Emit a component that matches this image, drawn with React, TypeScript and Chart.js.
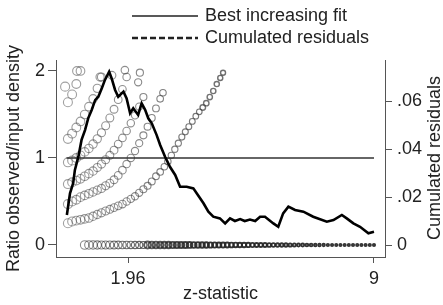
import React, { useEffect, useRef } from "react";
import { Chart, registerables } from "chart.js";
Chart.register(...registerables);

const FONT = "'Liberation Sans', Arial, sans-serif";
const TEXT = "#222";
const AXIS = "#555";

const xTicks = [1.96, 9];
const leftTicks = [0, 1, 2];
const rightTicks = [0, 0.02, 0.04, 0.06];
const legendLabels = ["Best increasing fit", "Cumulated residuals"];
const xTitle = "z-statistic";
const leftTitle = "Ratio observed/input density";
const rightTitle = "Cumulated residuals";

const fitX = [0.2, 9];
const fitY = [1, 1];

const residX = [0.21,0.30,0.39,0.44,0.54,0.63,0.73,0.82,0.92,1.02,1.11,1.21,1.30,1.42,1.49,1.59,1.68,1.83,1.92,2.02,2.11,2.25,2.35,2.45,2.54,2.64,2.78,2.88,3.02,3.16,3.31,3.45,3.64,3.83,3.93,4.12,4.26,4.40,4.59,4.74,4.88,5.02,5.17,5.30,5.45,5.60,5.74,5.88,6.12,6.26,6.40,6.55,6.74,6.98,7.26,7.65,7.84,8.08,8.22,8.41,8.60,8.84,9.00];
const residY = [0.0125,0.0215,0.0257,0.0313,0.0368,0.0438,0.0479,0.0528,0.0563,0.0604,0.0618,0.0653,0.0688,0.0722,0.0695,0.0646,0.0618,0.0639,0.0611,0.0549,0.0570,0.0542,0.0590,0.0563,0.0528,0.0507,0.0458,0.0417,0.0368,0.0326,0.0292,0.0243,0.0243,0.0236,0.0215,0.0174,0.0139,0.0118,0.0111,0.0090,0.0111,0.0100,0.0108,0.0100,0.0106,0.0100,0.0118,0.0118,0.0090,0.0076,0.0132,0.0160,0.0146,0.0139,0.0118,0.0097,0.0104,0.0125,0.0111,0.0090,0.0076,0.0049,0.0055];

const bX = [0.24,0.36,0.48,0.60,0.72,0.84,0.96,1.08,1.20,1.32,1.44,1.56,1.68,1.80,1.92,2.04,2.16,2.28,2.40,2.52,2.64,2.76,2.88,3.00,3.10,3.20,3.30,3.40,3.50,3.60,3.70,3.80,3.90,4.00,4.10,4.20,4.30,4.40,4.50,4.60,4.68];
const bY = [0.25,0.27,0.28,0.29,0.30,0.31,0.33,0.35,0.37,0.39,0.41,0.43,0.45,0.47,0.50,0.53,0.56,0.60,0.64,0.68,0.73,0.79,0.84,0.90,0.96,1.03,1.10,1.17,1.24,1.30,1.36,1.42,1.48,1.53,1.58,1.63,1.70,1.77,1.85,1.92,1.98];

const cX = [0.24,0.36,0.48,0.60,0.72,0.84,0.96,1.08,1.20,1.32,1.44,1.56,1.68,1.80,1.92,2.04,2.16,2.28,2.40,2.52,2.64,2.76,2.88,2.96];
const cY = [0.47,0.50,0.52,0.55,0.57,0.59,0.61,0.63,0.65,0.68,0.71,0.75,0.80,0.86,0.93,1.00,1.08,1.17,1.26,1.36,1.46,1.57,1.68,1.75];

const dX = [0.24,0.36,0.48,0.60,0.72,0.84,0.96,1.08,1.20,1.32,1.44,1.56,1.68,1.80,1.92,2.04,2.16,2.28,2.40];
const dY = [0.70,0.72,0.74,0.76,0.79,0.82,0.85,0.89,0.93,0.98,1.03,1.09,1.16,1.23,1.31,1.40,1.49,1.59,1.70];

const eX = [0.24,0.36,0.48,0.60,0.72,0.84,0.96,1.08,1.20,1.32,1.44,1.56,1.68,1.80,1.92];
const eY = [0.95,0.97,1.00,1.03,1.07,1.11,1.16,1.22,1.29,1.37,1.46,1.56,1.67,1.79,1.93];

const fX = [0.24,0.36,0.48,0.60,0.72,0.84,0.96,1.08,1.20];
const fY = [1.22,1.28,1.35,1.42,1.50,1.59,1.68,1.80,1.93];

const gX = [0.24,0.36,0.48,0.60];
const gY = [1.64,1.73,1.85,2.00];

const topX = [0.16,0.50,1.16,1.50,1.87,2.25,2.30];
const topY = [1.82,2.00,1.93,1.95,2.01,1.87,1.98];

const zeroX = [0.72,0.84,0.96,1.08,1.20,1.32,1.44,1.56,1.68,1.80,1.92,2.04,2.16,2.28,2.40,2.52,2.64,2.76,2.88,3.00,3.12,3.24,3.36,3.48,3.60,3.72,3.84,3.96,4.08,4.20,4.32,4.44,4.56,4.68,4.80,4.92,5.04,5.16,5.28,5.40,5.52,5.64,5.76,5.88,6.00,6.12,6.24,6.36,6.48,6.60,6.72,6.84,6.96,7.08,7.20,7.32,7.44,7.56,7.68,7.80,7.92,8.04,8.16,8.28,8.40,8.52,8.64,8.76,8.88,9.00];
const zeroY = [0,0,0,0,0,0,0,0,0,0,0,0,0,0,0,0,0,0,0,0,0,0,0,0,0,0,0,0,0,0,0,0,0,0,0,0,0,0,0,0,0,0,0,0,0,0,0,0,0,0,0,0,0,0,0,0,0,0,0,0,0,0,0,0,0,0,0,0,0,0];

const pts = (xs: number[], ys: number[]) => xs.map((x, i) => ({ x, y: ys[i] }));
const rawX = (ctx: any) => (ctx.raw ? ctx.raw.x : 0);
const onZero = (ctx: any) => !!(ctx.raw && ctx.raw.y === 0);

const circleSet = (xs: number[], ys: number[]) => ({
  type: "scatter" as const,
  data: pts(xs, ys),
  yAxisID: "y",
  showLine: false,
  backgroundColor: "rgba(0,0,0,0)",
  borderColor: (ctx: any) =>
    onZero(ctx)
      ? `rgba(40,40,40,${Math.min(0.95, 0.45 + 0.12 * rawX(ctx))})`
      : `rgba(70,70,70,${Math.min(0.95, 0.5 + 0.06 * rawX(ctx))})`,
  borderWidth: (ctx: any) => (onZero(ctx) && rawX(ctx) > 2.5 ? 1.9 : rawX(ctx) > 4 ? 1.4 : 1.1),
  pointStyle: "circle",
  pointRadius: (ctx: any) => Math.max(onZero(ctx) ? 1.1 : 1.3, 4.6 - 0.45 * rawX(ctx)),
  order: 5,
});

const overlayPlugin = {
  id: "overlay",
  afterDraw(chart: any) {
    const ctx = chart.ctx;
    ctx.save();
    ctx.strokeStyle = "#222";
    ctx.lineWidth = 1.3;
    ctx.beginPath();
    ctx.moveTo(132, 16);
    ctx.lineTo(198, 16);
    ctx.stroke();
    ctx.lineWidth = 2.6;
    ctx.setLineDash([6, 3]);
    ctx.beginPath();
    ctx.moveTo(132, 38);
    ctx.lineTo(198, 38);
    ctx.stroke();
    ctx.setLineDash([]);
    ctx.fillStyle = TEXT;
    ctx.font = `18px ${FONT}`;
    ctx.textBaseline = "middle";
    ctx.textAlign = "left";
    ctx.fillText(legendLabels[0], 205, 16);
    ctx.fillText(legendLabels[1], 205, 38);
    ctx.translate(435, 158);
    ctx.rotate(-Math.PI / 2);
    ctx.textAlign = "center";
    ctx.fillText(rightTitle, 0, 0);
    ctx.restore();
  },
};

export default function App() {
  const ref = useRef<HTMLCanvasElement>(null);
  useEffect(() => {
    const tickFont = { family: FONT, size: 18 };
    const chart = new Chart(ref.current!, {
      type: "scatter",
      data: {
        datasets: [
          {
            type: "line",
            data: pts(residX, residY),
            yAxisID: "y2",
            borderColor: "#000",
            borderWidth: 2.6,
            pointRadius: 0,
            tension: 0,
            order: 1,
          } as any,
          {
            type: "line",
            data: pts(fitX, fitY),
            yAxisID: "y",
            borderColor: "#333",
            borderWidth: 1.4,
            pointRadius: 0,
            order: 2,
          } as any,
          circleSet(bX, bY) as any,
          circleSet(cX, cY) as any,
          circleSet(dX, dY) as any,
          circleSet(eX, eY) as any,
          circleSet(fX, fY) as any,
          circleSet(gX, gY) as any,
          circleSet(topX, topY) as any,
          circleSet(zeroX, zeroY) as any,
        ],
      },
      options: {
        animation: false,
        responsive: false,
        devicePixelRatio: 1,
        layout: { padding: { top: 60, left: 0, right: 0, bottom: 0 } },
        plugins: { legend: { display: false }, tooltip: { enabled: false } },
        scales: {
          x: {
            type: "linear",
            min: -0.101,
            max: 9.315,
            afterBuildTicks: (s: any) => {
              s.ticks = xTicks.map((v) => ({ value: v }));
            },
            afterFit: (s: any) => {
              s.height = 48;
            },
            ticks: {
              callback: (v: any) => String(v),
              font: tickFont,
              color: TEXT,
              padding: 5,
              maxRotation: 0,
              autoSkip: false,
            },
            grid: { drawOnChartArea: false, tickLength: 6, color: AXIS },
            border: { color: AXIS, width: 1 },
            title: {
              display: true,
              text: xTitle,
              font: tickFont,
              color: TEXT,
              padding: { top: 0, bottom: 0 },
            },
          },
          y: {
            type: "linear",
            position: "left",
            min: -0.138,
            max: 2.126,
            afterBuildTicks: (s: any) => {
              s.ticks = leftTicks.map((v) => ({ value: v }));
            },
            afterFit: (s: any) => {
              s.width = 56;
            },
            ticks: {
              callback: (v: any) => String(v),
              font: tickFont,
              color: TEXT,
              padding: 3,
              autoSkip: false,
            },
            grid: { drawOnChartArea: false, tickLength: 8, color: AXIS },
            border: { color: AXIS, width: 1 },
            title: {
              display: true,
              text: leftTitle,
              font: tickFont,
              color: TEXT,
              padding: { top: 3, bottom: 0 },
            },
          },
          y2: {
            type: "linear",
            position: "right",
            min: -0.005,
            max: 0.0771,
            afterBuildTicks: (s: any) => {
              s.ticks = rightTicks.map((v) => ({ value: v }));
            },
            afterFit: (s: any) => {
              s.width = 58;
            },
            ticks: {
              callback: (v: any) => (v === 0 ? "0" : Number(v).toFixed(2).replace(/^0/, "")),
              font: tickFont,
              color: TEXT,
              padding: 5,
              autoSkip: false,
            },
            grid: { drawOnChartArea: false, tickLength: 7, color: AXIS },
            border: { color: AXIS, width: 1 },
            title: { display: false },
          },
        },
      } as any,
      plugins: [overlayPlugin],
    });
    return () => chart.destroy();
  }, []);
  return (
    <div style={{ position: "absolute", left: 0, top: 0, width: 443, height: 305, background: "#fff" }}>
      <canvas ref={ref} width={443} height={305} style={{ display: "block" }} />
    </div>
  );
}
